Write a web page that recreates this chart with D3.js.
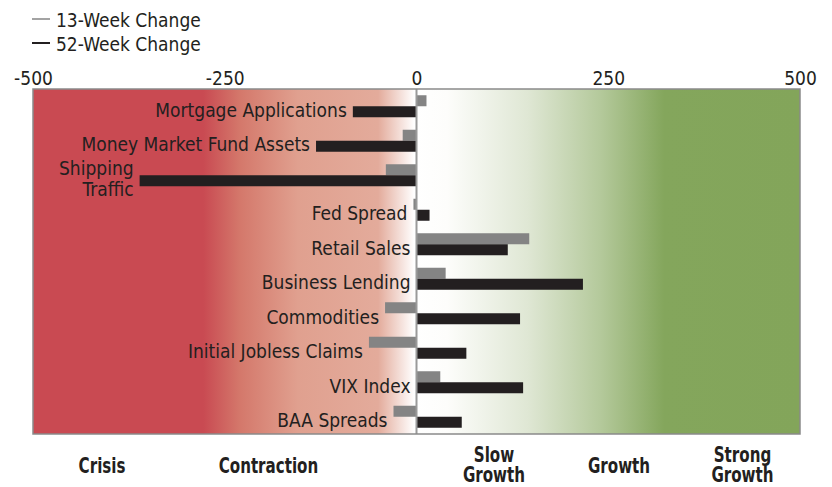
<!DOCTYPE html>
<html>
<head>
<meta charset="utf-8">
<script src="https://cdn.jsdelivr.net/npm/d3@7/dist/d3.min.js"></script>
<style>
  html, body { margin: 0; padding: 0; background: #ffffff; }
  svg { display: block; }
</style>
</head>
<body>
<svg id="chart" width="832" height="487"></svg>
<script>
// ---- data ----
const categories = ["Mortgage Applications", "Money Market Fund Assets", "Shipping\nTraffic", "Fed Spread",
  "Retail Sales", "Business Lending", "Commodities", "Initial Jobless Claims", "VIX Index", "BAA Spreads"];
const week13 = [13, -18, -40, -4, 147, 38, -41, -62, 31, -30];
const week52 = [-83, -131, -361, 17, 119, 217, 135, 65, 139, 59];
const seriesNames = ["13-Week Change", "52-Week Change"];
const tickValues = [-500, -250, 0, 250, 500];
const zoneNames = ["Crisis", "Contraction", "Slow\nGrowth", "Growth", "Strong\nGrowth"];
const zoneCenters = [-410, -193, 101, 264, 425];

// ---- layout ----
const plotL = 33, plotR = 800, plotT = 89, plotB = 434;
const svg = d3.select("#chart");
const FONT = '"Liberation Sans Narrow", "DejaVu Sans Condensed", "Roboto Condensed", Roboto, sans-serif';

const x = d3.scaleLinear().domain([-500, 500]).range([plotL, plotR]);
const y = d3.scaleBand().domain(d3.range(categories.length)).range([plotT, plotB]).padding(0);
const sub = d3.scaleBand().domain([0, 1]).range([y.bandwidth() / 2 - 11, y.bandwidth() / 2 + 11]).padding(0);

// background gradient
const defs = svg.append("defs");
const grad = defs.append("linearGradient").attr("id", "bg")
  .attr("gradientUnits", "userSpaceOnUse")
  .attr("x1", x(-500)).attr("x2", x(500)).attr("y1", 0).attr("y2", 0);
const stops = [
  [0, "#c94a52"], [0.222, "#c94a52"], [0.27, "#d4786b"], [0.345, "#e0a08f"],
  [0.45, "#e3ab9b"], [0.497, "#ffffff"], [0.54, "#fdfdfb"], [0.645, "#dfe7d4"],
  [0.74, "#b4c99b"], [0.823, "#84a65c"], [1, "#83a55a"]
];
grad.selectAll("stop").data(stops).join("stop")
  .attr("offset", d => d[0]).attr("stop-color", d => d[1]);

svg.append("rect")
  .attr("x", x(-500)).attr("y", plotT)
  .attr("width", x(500) - x(-500)).attr("height", plotB - plotT)
  .attr("fill", "url(#bg)");

// bars
const colors = ["#848484", "#231f20"];
const rows = categories.map((c, i) => ({ i, c, v: [week13[i], week52[i]] }));
const g = svg.append("g");
rows.forEach(r => {
  r.v.forEach((v, k) => {
    g.append("rect")
      .attr("x", x(Math.min(0, v)))
      .attr("y", y(r.i) + sub(k))
      .attr("width", Math.abs(x(v) - x(0)))
      .attr("height", sub.bandwidth())
      .attr("fill", colors[k]);
  });
});

// zero line
svg.append("line")
  .attr("x1", x(0)).attr("x2", x(0)).attr("y1", plotT).attr("y2", plotB)
  .attr("stroke", "#9a9a9a").attr("stroke-width", 2);

// frame
svg.append("rect")
  .attr("x", x(-500)).attr("y", plotT)
  .attr("width", x(500) - x(-500)).attr("height", plotB - plotT)
  .attr("fill", "none").attr("stroke", "#8a8a8a").attr("stroke-width", 1.5);

// category labels
rows.forEach(r => {
  const lines = r.c.split("\n");
  const minV = Math.min(0, r.v[0], r.v[1]);
  const cy = y(r.i) + y.bandwidth() / 2;
  const t = svg.append("text")
    .attr("font-family", FONT)
    .attr("text-anchor", "end")
    .attr("font-size", 19)
    .attr("fill", "#231f20")
    .attr("x", x(minV) - 6);
  const lh = 21;
  const first = cy + 10.5 - (lines.length - 1) * lh / 2;
  lines.forEach((ln, j) => {
    t.append("tspan").attr("x", x(minV) - 6).attr("y", first + j * lh).text(ln);
  });
});

// top axis
const axis = d3.axisTop(x).tickValues(tickValues).tickSize(0).tickPadding(0).tickFormat(d => String(d));
const ax = svg.append("g").attr("transform", `translate(0,${85})`).call(axis);
ax.select(".domain").remove();
ax.selectAll("text")
  .attr("font-family", FONT).attr("font-size", 19).attr("fill", "#231f20")
  .attr("dy", 0);

// legend
const leg = svg.append("g");
seriesNames.forEach((s, i) => {
  const ly = 19 + i * 24;
  leg.append("line").attr("x1", 32).attr("x2", 50).attr("y1", ly).attr("y2", ly)
    .attr("stroke", colors[i]).attr("stroke-width", i === 0 ? 1.5 : 2);
  leg.append("text").attr("x", 56).attr("y", ly + 7.5)
    .attr("font-family", FONT).attr("font-size", 19).attr("fill", "#231f20").text(s);
});

// zone labels (bold, condensed)
zoneNames.forEach((z, i) => {
  const lines = z.split("\n");
  const base = lines.length === 1 ? 473 : 462;
  lines.forEach((ln, j) => {
    svg.append("text")
      .attr("transform", `translate(${x(zoneCenters[i])},${base + j * 20}) scale(0.8,1)`)
      .attr("text-anchor", "middle")
      .attr("font-family", FONT).attr("font-size", 21).attr("font-weight", "bold")
      .attr("fill", "#231f20")
      .text(ln);
  });
});
</script>
</body>
</html>
